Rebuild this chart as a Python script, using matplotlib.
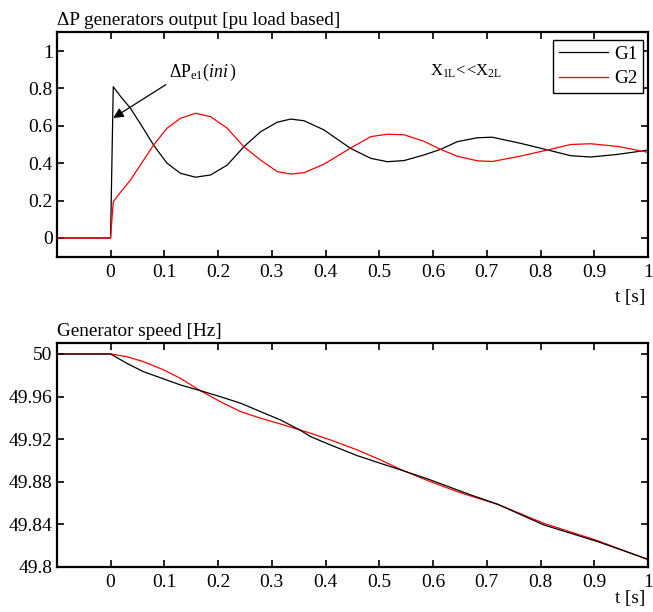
import matplotlib
matplotlib.use("Agg")
import matplotlib.pyplot as plt

plt.rcParams['font.family'] = ['Liberation Serif', 'DejaVu Serif']
plt.rcParams['mathtext.fontset'] = 'custom'
plt.rcParams['mathtext.rm'] = 'Liberation Serif'
plt.rcParams['mathtext.it'] = 'Liberation Serif:italic'
plt.rcParams['mathtext.bf'] = 'Liberation Serif:bold'

# --- power output deviation of the two generators ---
t_p = [-0.1, 0.0, 0.005, 0.02, 0.037, 0.06, 0.08, 0.105, 0.13, 0.158, 0.186,
       0.217, 0.248, 0.279, 0.31, 0.335, 0.36, 0.397, 0.446, 0.484, 0.515,
       0.546, 0.583, 0.614, 0.645, 0.682, 0.71, 0.763, 0.813, 0.856, 0.893,
       0.943, 1.0]
p_g1 = [0.0, 0.0, 0.809, 0.752, 0.694, 0.59, 0.497, 0.40, 0.346, 0.325, 0.337,
        0.39, 0.488, 0.568, 0.619, 0.636, 0.627, 0.578, 0.48, 0.426, 0.408,
        0.414, 0.444, 0.474, 0.515, 0.536, 0.539, 0.506, 0.471, 0.44, 0.433,
        0.447, 0.47]
p_g2 = [0.0, 0.0, 0.194, 0.25, 0.31, 0.41, 0.497, 0.587, 0.64, 0.667, 0.649,
        0.587, 0.488, 0.417, 0.355, 0.342, 0.349, 0.395, 0.48, 0.542, 0.555,
        0.552, 0.517, 0.474, 0.437, 0.413, 0.409, 0.438, 0.471, 0.50, 0.504,
        0.49, 0.458]

# --- generator speed ---
t_f = [-0.1, 0.0, 0.03, 0.061, 0.099, 0.13, 0.167, 0.204, 0.242, 0.279, 0.316,
       0.352, 0.372, 0.409, 0.459, 0.502, 0.546, 0.595, 0.645, 0.67, 0.72,
       0.806, 0.906, 1.0]
f_g1 = [50.0, 50.0, 49.9913, 49.9834, 49.9765, 49.9709, 49.9655, 49.9599,
        49.9537, 49.9458, 49.938, 49.9286, 49.9223, 49.9145, 49.9044, 49.8972,
        49.89, 49.8816, 49.8722, 49.8675, 49.8587, 49.8393, 49.8236, 49.807]
f_g2 = [50.0, 50.0, 49.9975, 49.9928, 49.985, 49.9771, 49.9655, 49.9552,
        49.9458, 49.9396, 49.9342, 49.9286, 49.9255, 49.9192, 49.9098, 49.9004,
        49.89, 49.88, 49.8706, 49.8665, 49.8587, 49.8408, 49.8245, 49.8065]

x_ticks = [0, 0.1, 0.2, 0.3, 0.4, 0.5, 0.6, 0.7, 0.8, 0.9, 1.0]
x_labels = ['0', '0.1', '0.2', '0.3', '0.4', '0.5', '0.6', '0.7', '0.8', '0.9', '1']
p_ticks = [0, 0.2, 0.4, 0.6, 0.8, 1.0]
p_labels = ['0', '0.2', '0.4', '0.6', '0.8', '1']
f_ticks = [49.8, 49.84, 49.88, 49.92, 49.96, 50.0]
f_labels = ['49.8', '49.84', '49.88', '49.92', '49.96', '50']

FS_TICK = 14
FS_TITLE = 13.8

fig = plt.figure(figsize=(6.53, 6.12), dpi=100)
ax1 = fig.add_axes([0.087, 0.5806, 0.9055, 0.3666])
ax2 = fig.add_axes([0.087, 0.074, 0.9055, 0.365])


def style(ax):
    for s in ax.spines.values():
        s.set_linewidth(1.6)
        s.set_color('black')
    ax.tick_params(direction='in', length=5, width=1.2, top=True, right=True,
                   labelsize=FS_TICK, pad=3, colors='black')
    ax.tick_params(axis='x', pad=5)


ax1.plot(t_p, p_g1, color='black', lw=0.9, label='G1')
ax1.plot(t_p, p_g2, color='red', lw=0.9, label='G2')
ax1.set_xlim(-0.1, 1.0)
ax1.set_ylim(-0.1, 1.1)
ax1.set_xticks(x_ticks, x_labels)
ax1.set_yticks(p_ticks, p_labels)
style(ax1)
ax1.set_title('\u0394P generators output [pu load based]', loc='left',
              fontsize=FS_TITLE, pad=5)
ax1.text(0.995, -0.145, 't [s]', transform=ax1.transAxes, ha='right', va='top',
         fontsize=FS_TITLE)
leg = ax1.legend(loc='upper right', bbox_to_anchor=(0.992, 0.966),
                 borderaxespad=0, fontsize=FS_TITLE, fancybox=False,
                 framealpha=1, edgecolor='black', handlelength=2.6,
                 labelspacing=0.35, borderpad=0.3, handletextpad=0.3)
leg.get_frame().set_linewidth(1.0)

ax1.annotate(r'$\Delta\mathrm{P}_{\mathrm{e1}}(\mathit{ini}\,)$',
             xy=(0.005, 0.642), xytext=(0.108, 0.862),
             fontsize=12.8, ha='left', va='baseline',
             arrowprops=dict(arrowstyle='-|>', color='black', lw=0.9,
                             mutation_scale=15, shrinkA=0, shrinkB=0,
                             relpos=(0.0, 0.0)))
ax1.text(0.595, 0.868, r'$\mathrm{X}_{\mathrm{1L}}\!<\!\!<\!\mathrm{X}_{\mathrm{2L}}$',
         fontsize=12, ha='left', va='baseline')

ax2.plot(t_f, f_g2, color='red', lw=0.9)
ax2.plot(t_f, f_g1, color='black', lw=0.9)
ax2.set_xlim(-0.1, 1.0)
ax2.set_ylim(49.8, 50.01)
ax2.set_xticks(x_ticks, x_labels)
ax2.set_yticks(f_ticks, f_labels)
style(ax2)
ax2.set_title('Generator speed [Hz]', loc='left', fontsize=FS_TITLE, pad=5)
ax2.text(0.995, -0.105, 't [s]', transform=ax2.transAxes, ha='right', va='top',
         fontsize=FS_TITLE)

fig.savefig('out.png', dpi=100)
